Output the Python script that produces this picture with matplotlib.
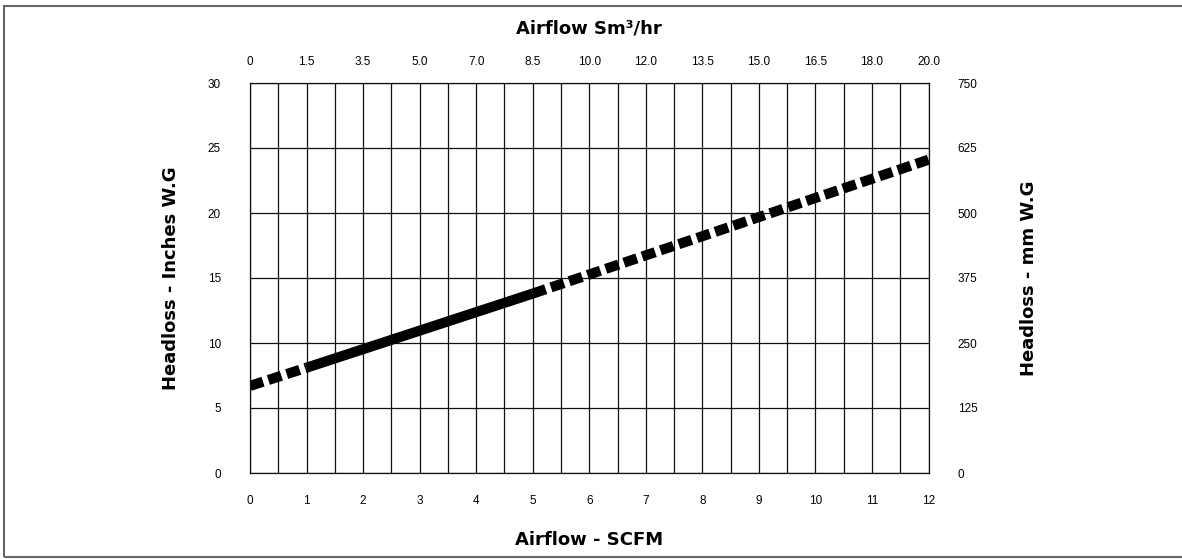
import numpy as np
import matplotlib.pyplot as plt
from matplotlib.patches import Rectangle

# data
scfm_ticks = list(range(0, 13))
sm3hr_labels = ["0", "1.5", "3.5", "5.0", "7.0", "8.5", "10.0", "12.0",
                "13.5", "15.0", "16.5", "18.0", "20.0"]
inch_ticks = [0, 5, 10, 15, 20, 25, 30]
mm_ticks = [0, 125, 250, 375, 500, 625, 750]

# headloss curve: solid over the tested range (1-5 SCFM), dashed outside it
curve_x = [0, 1, 5, 12]
curve_y = [6.7, 8.1, 13.8, 24.1]

fig = plt.figure(figsize=(11.82, 5.59), dpi=100)
ax = fig.add_axes([250 / 1182, 86 / 559, 678.5 / 1182, 390 / 559])

grid_kw = dict(color="#111111", lw=0.9)
ax.set_xlim(0, 12)
ax.set_ylim(0, 30)
ax.set_xticks(scfm_ticks)
ax.set_xticks(np.arange(0, 12.5, 0.5), minor=True)
ax.set_yticks(inch_ticks)
ax.grid(which="both", axis="x", **grid_kw)
ax.grid(which="major", axis="y", **grid_kw)
for s in ax.spines.values():
    s.set_linewidth(0.9)
    s.set_color("#111111")

tick_font = dict(family="Liberation Sans", size=8.5)
ax.tick_params(axis="x", which="both", length=0, pad=16)
ax.tick_params(axis="y", length=0, pad=21)
for lab in ax.get_xticklabels() + ax.get_yticklabels():
    lab.set_fontfamily("Liberation Sans")
    lab.set_fontsize(8.5)

line_kw = dict(color="black", lw=7.3, solid_capstyle="butt",
               dash_capstyle="butt")
lo, = ax.plot(curve_x[0:2], curve_y[0:2], **line_kw)
hi, = ax.plot(curve_x[2:4], curve_y[2:4], **line_kw)
lo.set_dashes([1.35, 0.55])
hi.set_dashes([1.35, 0.55])
ax.plot(curve_x[1:3], curve_y[1:3], **line_kw)

# top axis: Sm3/hr
axt = ax.twiny()
axt.set_xlim(0, 12)
axt.set_xticks(scfm_ticks)
axt.set_xticklabels(sm3hr_labels, **tick_font)
axt.tick_params(axis="x", length=0, pad=11)
axt.set_xlabel("Airflow Sm³/hr", fontsize=13, fontweight="bold")
axt.xaxis.set_label_coords(0.5, 1.128)

# right axis: mm W.G
axr = ax.twinx()
axr.set_ylim(0, 750)
axr.set_yticks(mm_ticks)
axr.set_yticklabels([str(v) for v in mm_ticks], **tick_font)
axr.tick_params(axis="y", length=0, pad=21)
axr.set_ylabel("Headloss - mm W.G", fontsize=13, fontweight="bold")
axr.yaxis.set_label_coords(1.135, 0.5)
for a in (axt, axr):
    for s in a.spines.values():
        s.set_visible(False)

ax.set_xlabel("Airflow - SCFM", fontsize=13, fontweight="bold")
ax.xaxis.set_label_coords(0.5, -0.149)
ax.set_ylabel("Headloss - Inches W.G", fontsize=13, fontweight="bold")
ax.yaxis.set_label_coords(-0.103, 0.5)

# gray frame around the whole picture
fig.patches.append(Rectangle((4 / 1182, 2 / 559), 1.2, 551 / 559,
                             transform=fig.transFigure, fill=False,
                             edgecolor="#666666", lw=1.5))

fig.savefig("out.png", dpi=100)
